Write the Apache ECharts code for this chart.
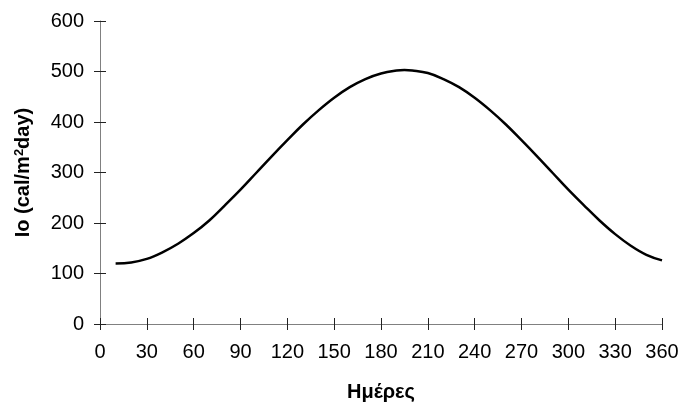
<!DOCTYPE html>
<html>
<head>
<meta charset="utf-8">
<script src="https://cdn.jsdelivr.net/npm/echarts@6/dist/echarts.min.js"></script>
<style>
  html, body { margin: 0; padding: 0; background: #fff; }
  #chart { width: 685px; height: 407px; }
</style>
</head>
<body>
<div id="chart"></div>
<script>
const days = [10, 20, 30, 40, 50, 60, 70, 80, 90, 100, 110, 120, 130, 140, 150, 160, 170, 180,
  190, 195, 200, 210, 220, 230, 240, 250, 260, 270, 280, 290, 300, 310, 320, 330, 340, 350, 360];
const io = [120, 122, 129, 142, 159, 180, 205, 235, 266, 299, 332, 364, 395, 423, 448, 469, 485, 496,
  502, 503, 502, 497, 485, 469, 448, 423, 395, 364, 332, 299, 266, 235, 205, 178, 155, 137, 126];
const xTitle = "Ημέρες";

const font = "Liberation Sans, Arial, sans-serif";
const lineColor = "#808080";
const tickColor = "#222";

const chart = echarts.init(document.getElementById("chart"));

// ticks cross the axis line, so each axis is drawn twice: outside ticks + inside ticks
function xAxisBase(inside) {
  return {
    type: "value", position: "bottom", min: 0, max: 360, interval: 30,
    splitLine: { show: false },
    axisLine: { show: !inside, onZero: false, lineStyle: { color: lineColor, width: 1 } },
    axisTick: { show: true, inside, length: 6, lineStyle: { color: tickColor } },
    axisLabel: { show: !inside, color: "#000", fontFamily: font, fontSize: 20, margin: 18 }
  };
}
function yAxisBase(inside) {
  return {
    type: "value", position: "left", min: 0, max: 600, interval: 100,
    splitLine: { show: false },
    axisLine: { show: !inside, onZero: false, lineStyle: { color: lineColor, width: 1 } },
    axisTick: { show: true, inside, length: 6, lineStyle: { color: tickColor } },
    axisLabel: { show: !inside, color: "#000", fontFamily: font, fontSize: 20, margin: 16 }
  };
}

chart.setOption({
  animation: false,
  grid: { left: 100, right: 23, top: 21, bottom: 82 },
  xAxis: [
    Object.assign(xAxisBase(false), {
      name: xTitle, nameLocation: "middle", nameGap: 58,
      nameTextStyle: { color: "#000", fontFamily: font, fontSize: 20, fontWeight: "bold" }
    }),
    xAxisBase(true)
  ],
  yAxis: [
    Object.assign(yAxisBase(false), {
      name: "{t|Io (cal/m}{s|2}{t|day)}", nameLocation: "middle", nameGap: 66, nameRotate: 90,
      nameTextStyle: {
        color: "#000", fontFamily: font, fontSize: 20, fontWeight: "bold",
        rich: {
          t: { color: "#000", fontFamily: font, fontSize: 20, fontWeight: "bold" },
          s: { color: "#000", fontFamily: font, fontSize: 13, fontWeight: "bold", verticalAlign: "top", padding: [0, 0, 8, 0] }
        }
      }
    }),
    yAxisBase(true)
  ],
  series: [{
    type: "line",
    xAxisIndex: 0,
    yAxisIndex: 0,
    smooth: 0.4,
    showSymbol: false,
    lineStyle: { color: "#000", width: 2.5 },
    data: days.map((d, i) => [d, io[i]])
  }]
});
</script>
</body>
</html>
